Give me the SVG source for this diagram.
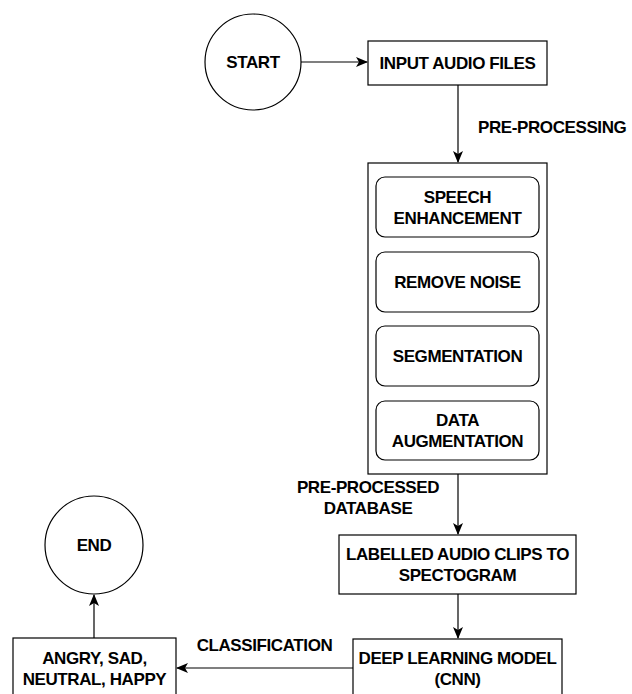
<svg xmlns="http://www.w3.org/2000/svg" width="632" height="694" viewBox="0 0 632 694">
<defs>
<style>
.shape{fill:#fff;stroke:#000;stroke-width:1.2}
.edge{fill:none;stroke:#000;stroke-width:1.2}
text{font-family:"Liberation Sans",Arial,Helvetica,sans-serif;font-weight:bold;font-size:17px;letter-spacing:-0.4px;fill:#000;text-anchor:middle}
.lbl{text-anchor:start}
</style>
<marker id="arrow" viewBox="0 0 12 10" refX="11" refY="5" markerWidth="12" markerHeight="10" markerUnits="userSpaceOnUse" orient="auto">
<path d="M0,0 L12,5 L0,10 L3,5 Z" fill="#000"/>
</marker>
</defs>
<rect width="632" height="694" fill="#fff"/>
<g id="connectors">
<line class="edge" x1="301" y1="62" x2="367" y2="62" marker-end="url(#arrow)"/>
<line class="edge" x1="458" y1="85" x2="458" y2="162" marker-end="url(#arrow)"/>
<line class="edge" x1="458" y1="474" x2="458" y2="534" marker-end="url(#arrow)"/>
<line class="edge" x1="458" y1="594" x2="458" y2="638" marker-end="url(#arrow)"/>
<line class="edge" x1="353" y1="668" x2="177" y2="668" marker-end="url(#arrow)"/>
<line class="edge" x1="94" y1="638" x2="94" y2="595" marker-end="url(#arrow)"/>
<text class="lbl" x="478" y="133">PRE-PROCESSING</text>
<text x="368" y="493">PRE-PROCESSED</text>
<text x="368" y="514">DATABASE</text>
<text x="264.5" y="651">CLASSIFICATION</text>
</g>
<g id="start">
<circle class="shape" cx="253" cy="62" r="48"/>
<text x="253" y="68">START</text>
</g>
<g id="input">
<rect class="shape" x="368" y="41" width="179" height="44"/>
<text x="457.5" y="69">INPUT AUDIO FILES</text>
</g>
<g id="preprocessing">
<rect class="shape" x="368" y="163" width="179" height="311"/>
</g>
<g id="speech">
<rect class="shape" x="376" y="177" width="163" height="60" rx="9"/>
<text x="457.5" y="203">SPEECH</text>
<text x="457.5" y="224">ENHANCEMENT</text>
</g>
<g id="noise">
<rect class="shape" x="376" y="252" width="163" height="60" rx="9"/>
<text x="457.5" y="288">REMOVE NOISE</text>
</g>
<g id="segmentation">
<rect class="shape" x="376" y="326" width="163" height="60" rx="9"/>
<text x="457.5" y="362">SEGMENTATION</text>
</g>
<g id="augmentation">
<rect class="shape" x="376" y="401" width="163" height="59" rx="9"/>
<text x="457.5" y="426">DATA</text>
<text x="457.5" y="447">AUGMENTATION</text>
</g>
<g id="spectogram">
<rect class="shape" x="339" y="535" width="237" height="59"/>
<text x="457.5" y="560">LABELLED AUDIO CLIPS TO</text>
<text x="457.5" y="581">SPECTOGRAM</text>
</g>
<g id="cnn">
<rect class="shape" x="353" y="639" width="209" height="62"/>
<text x="457.5" y="664">DEEP LEARNING MODEL</text>
<text x="457.5" y="685">(CNN)</text>
</g>
<g id="emotions">
<rect class="shape" x="13" y="638" width="163" height="62"/>
<text x="94.5" y="664">ANGRY, SAD,</text>
<text x="94.5" y="685">NEUTRAL, HAPPY</text>
</g>
<g id="end">
<circle class="shape" cx="94" cy="545" r="49"/>
<text x="94" y="551">END</text>
</g>
</svg>
